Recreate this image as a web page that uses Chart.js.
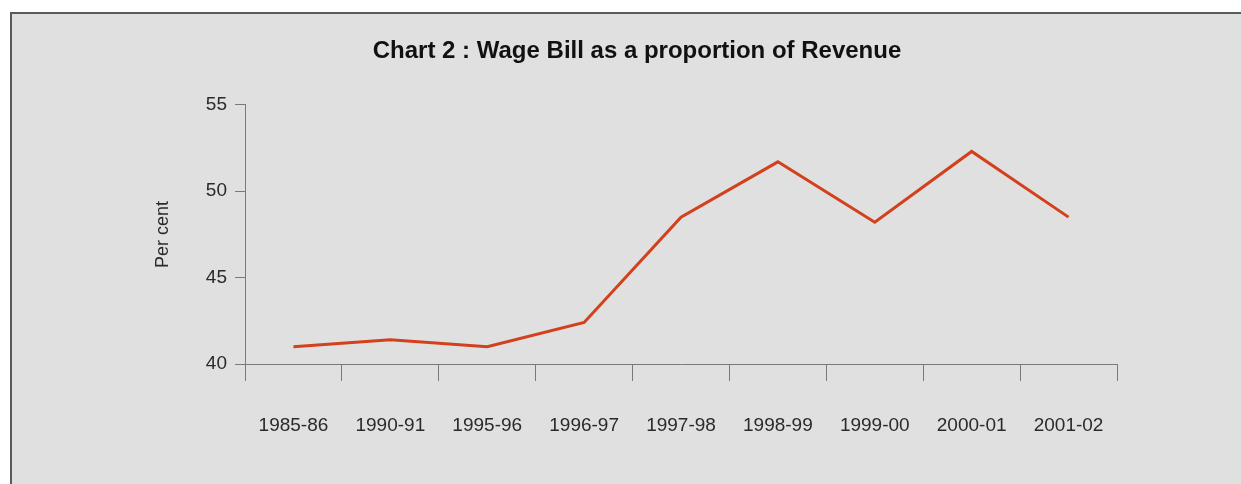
<!DOCTYPE html>
<html>
<head>
<meta charset="utf-8">
<script src="https://cdn.jsdelivr.net/npm/chart.js@4/dist/chart.umd.min.js"></script>
<style>
  html, body { margin: 0; padding: 0; background: #fff; }
  body { width: 1241px; height: 484px; position: relative; overflow: hidden; }
  .frame {
    position: absolute; left: 10px; top: 12px; width: 1240px; height: 480px;
    background: #e0e0e0; border-top: 2px solid #5a5a5a; border-left: 2px solid #5a5a5a;
  }
  canvas { position: absolute; left: 0; top: 0; }
</style>
</head>
<body>
<div class="frame"></div>
<canvas id="grafico" width="1241" height="484"></canvas>
<script>
  const anos = ["1985-86", "1990-91", "1995-96", "1996-97", "1997-98", "1998-99", "1999-00", "2000-01", "2001-02"];
  const proporcao = [41.0, 41.4, 41.0, 42.4, 48.5, 51.7, 48.2, 52.3, 48.5];
  const ticksY = [40, 45, 50, 55];

  const corLinha = "#d2401c";
  const corEixo = "#7a7a7a";
  const corTexto = "#2a2a2a";
  const fonte = "Liberation Sans, Arial, sans-serif";

  const ctx = document.getElementById("grafico").getContext("2d");
  new Chart(ctx, {
    type: "line",
    data: {
      labels: anos,
      datasets: [
        {
          label: "Wage Bill",
          data: proporcao,
          borderColor: corLinha,
          backgroundColor: corLinha,
          borderWidth: 3,
          pointRadius: 0,
          fill: false,
          tension: 0,
        },
      ],
    },
    options: {
      responsive: false,
      animation: false,
      layout: { padding: { left: 33, right: 0, top: 0, bottom: 0 } },
      plugins: {
        legend: { display: false },
        tooltip: { enabled: false },
        title: {
          display: true,
          text: "Chart 2 : Wage Bill as a proportion of Revenue",
          color: "#111",
          font: { family: fonte, size: 24, weight: "bold" },
          padding: { top: 37, bottom: 39 },
        },
      },
      scales: {
        x: {
          offset: true,
          grid: { display: true, offset: true, drawOnChartArea: false, color: corEixo, tickLength: 17, tickWidth: 1 },
          border: { color: corEixo, width: 1 },
          ticks: {
            color: corTexto,
            padding: 33,
            maxRotation: 0,
            font: { family: fonte, size: 19 },
          },
          afterFit: (s) => { s.height = 120; },
        },
        y: {
          min: 40,
          max: 55,
          afterBuildTicks: (s) => { s.ticks = ticksY.map((v) => ({ value: v })); },
          grid: { display: true, drawOnChartArea: false, color: corEixo, tickLength: 10 },
          border: { color: corEixo, width: 1 },
          ticks: {
            color: corTexto,
            padding: 8,
            font: { family: fonte, size: 19 },
          },
          title: {
            display: true,
            text: "Per cent",
            color: corTexto,
            padding: { top: 119, bottom: 0 },
            font: { family: fonte, size: 18 },
          },
          afterFit: (s) => { s.width = 212; },
        },
        // espaço vazio à direita, só para a área do gráfico terminar no sítio certo
        vazio: {
          position: "right",
          grid: { display: false },
          border: { display: false },
          ticks: { display: false },
          afterFit: (s) => { s.width = 124; },
        },
      },
    },
  });
</script>
</body>
</html>
